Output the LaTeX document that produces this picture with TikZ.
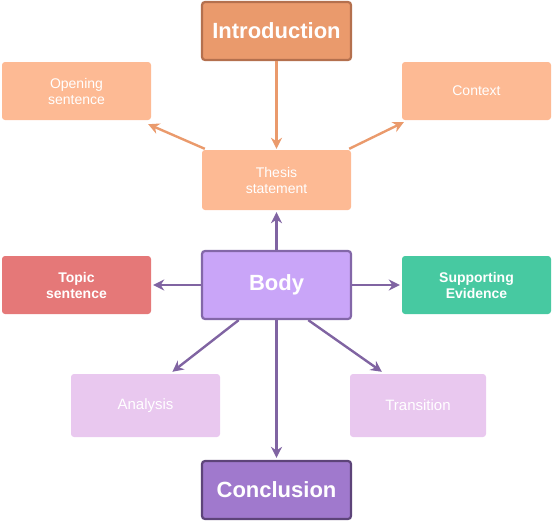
\documentclass[tikz,border=0pt]{standalone}
\usepackage{fontspec}
\setmainfont{Liberation Sans}
\usetikzlibrary{arrows.meta,shapes,calc}
\definecolor{introfill}{HTML}{EA9A6C}
\definecolor{introline}{HTML}{B4704E}
\definecolor{peach}{HTML}{FDBA94}
\definecolor{bodyfill}{HTML}{C9A5F8}
\definecolor{bodyline}{HTML}{8367A8}
\definecolor{topicfill}{HTML}{E57878}
\definecolor{evidfill}{HTML}{47C9A1}
\definecolor{lilac}{HTML}{E9C8EF}
\definecolor{conclfill}{HTML}{A079CD}
\definecolor{conclline}{HTML}{5D4479}
\definecolor{orangearrow}{HTML}{EA9A6C}
\definecolor{purplearrow}{HTML}{8064A2}
\tikzset{
  box/.style={rectangle, rounded corners=3pt, text=white, align=center,
    inner sep=0pt, font=\fontsize{14}{16}\selectfont},
  mainbox/.style={box, line width=2.2pt, font=\fontsize{22}{26}\selectfont\bfseries},
  oarrow/.style={-{Stealth[length=11pt,width=11pt,inset=3.5pt]}, draw=orangearrow, line width=2.4pt},
  parrow/.style={-{Stealth[length=11pt,width=11pt,inset=3.5pt]}, draw=purplearrow, line width=2.4pt},
}
\begin{document}
\begin{tikzpicture}[x=1pt, y=-1pt]
      \useasboundingbox (0,0) rectangle (553,522);

      \node[mainbox, fill=introfill, draw=introline, minimum width=149pt, minimum height=58pt] at (276.5,31) (intro) {Introduction};
      \node[box, fill=peach, minimum width=149pt, minimum height=58pt] at (76.5,91) (opening) {Opening\\sentence};
      \node[box, fill=peach, minimum width=149pt, minimum height=58pt] at (476.5,91) (context) {Context};
      \node[box, fill=peach, minimum width=149pt, minimum height=60pt] at (276.5,180) (thesis) {Thesis\\statement};

      \node[mainbox, fill=bodyfill, draw=bodyline, minimum width=149pt, minimum height=68pt] at (276.5,285) (body) {Body};
      \node[box, fill=topicfill, font=\fontsize{14}{16}\selectfont\bfseries, minimum width=149pt, minimum height=58pt] at (76.5,285) (topic) {Topic\\sentence};
      \node[box, fill=evidfill, font=\fontsize{14}{16}\selectfont\bfseries, minimum width=149pt, minimum height=58pt] at (476.5,285) (evid) {Supporting\\Evidence};
      \node[box, fill=lilac, font=\fontsize{15}{17}\selectfont, minimum width=149pt, minimum height=63pt] at (145.5,405.5) (analysis) {Analysis};
      \node[box, fill=lilac, font=\fontsize{15}{17}\selectfont, minimum width=136pt, minimum height=63pt] at (418,405.5) (transition) {Transition};
      \node[mainbox, fill=conclfill, draw=conclline, minimum width=149pt, minimum height=58pt] at (276.5,490) (concl) {Conclusion};

      \draw[oarrow] (intro.south) -- ($(thesis.north)+(0,-1)$);
      \draw[oarrow] ($(thesis.north west)+(3,-1)$) -- ($(opening.south east)+(-3,4)$);
      \draw[oarrow] ($(thesis.north east)+(-2,-1)$) -- ($(context.south west)+(2,2)$);

      \draw[parrow] (body.north) -- ($(thesis.south)+(0,2)$);
      \draw[parrow] (body.west) -- ($(topic.east)+(2,0)$);
      \draw[parrow] (body.east) -- ($(evid.west)+(-2,0)$);
      \draw[parrow] ($(body.south west)!0.25!(body.south east)$) -- ($(analysis.north west)!0.68!(analysis.north east)+(0,-2)$);
      \draw[parrow] ($(body.south west)!0.71!(body.south east)$) -- ($(transition.north west)!0.235!(transition.north east)+(0,-2)$);
      \draw[parrow] (body.south) -- ($(concl.north)+(0,-2)$);
\end{tikzpicture}
\end{document}
